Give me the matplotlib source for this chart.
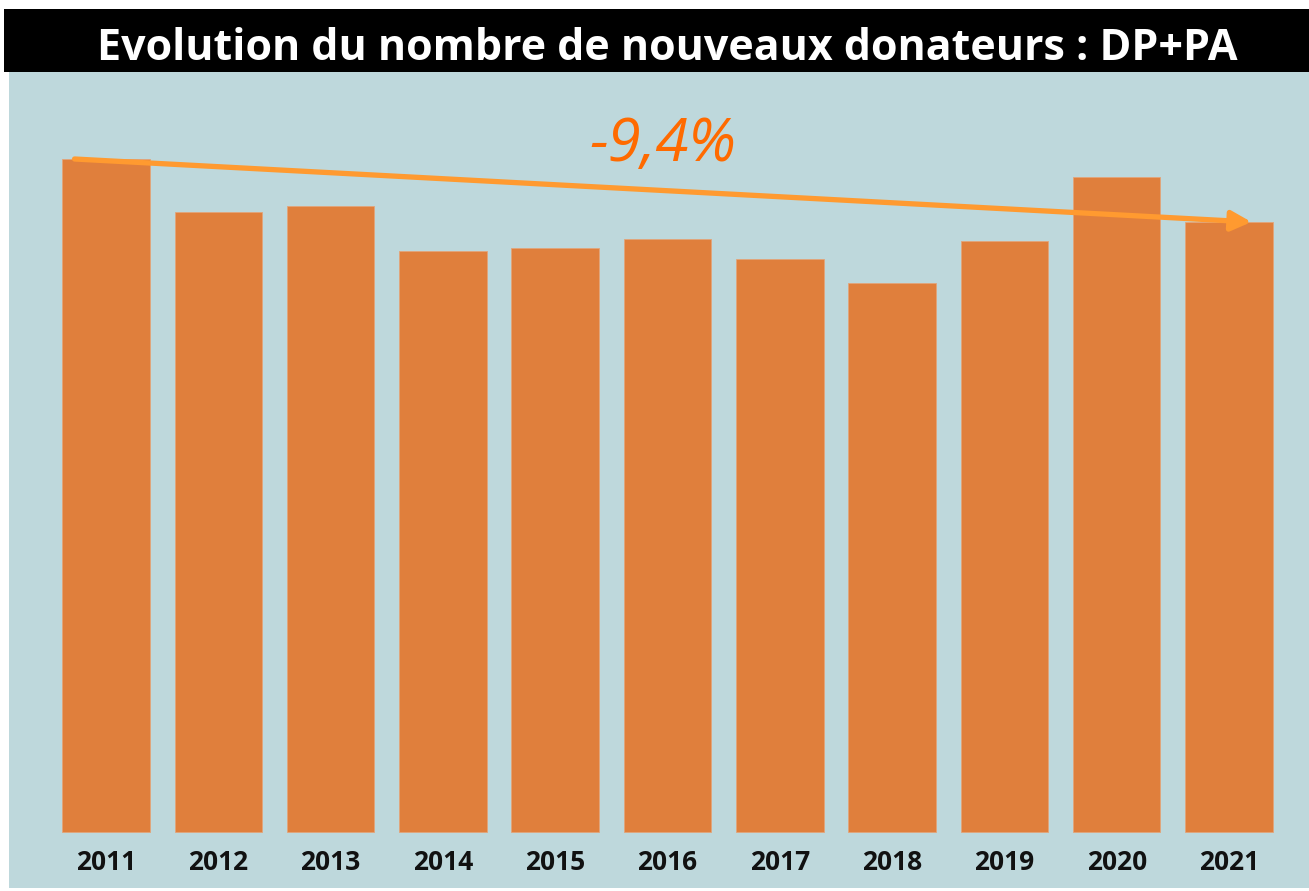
#!/usr/bin/env python3
"""Bar chart: evolution du nombre de nouveaux donateurs (DP+PA)."""

import matplotlib

matplotlib.use("Agg")
import matplotlib.pyplot as plt

# values (relative bar heights, no axis in the source)
years = ["2011", "2012", "2013", "2014", "2015", "2016",
         "2017", "2018", "2019", "2020", "2021"]
donors = [673, 620, 626, 581, 584, 593, 573, 549, 591, 655, 610]
change_label = "-9,4%"

W, H = 1309, 891
BG = "#bed8dc"
BAR = "#e07f3c"
ARROW = "#ff9a30"


def main():
    fig = plt.figure(figsize=(W / 100, H / 100), dpi=100)
    fig.patch.set_facecolor("white")

    # title band
    band = fig.add_axes([4 / W, (H - 72) / H, 1 - 4 / W, 63 / H])
    band.set_facecolor("black")
    band.set_xticks([])
    band.set_yticks([])
    for s in band.spines.values():
        s.set_visible(False)
    band.text(0.508, 0.37, "Evolution du nombre de nouveaux donateurs : DP+PA",
              ha="center", va="center", color="white", fontsize=31,
              fontweight="bold", family="Open Sans",
              transform=band.transAxes)

    # plotting area
    ax = fig.add_axes([9 / W, 3 / H, 1 - 9 / W, (888 - 72) / H])
    ax.set_facecolor(BG)
    x = list(range(len(years)))
    step = 112.3
    ax.set_xlim((9 - 106) / step, (W - 106) / step)
    ax.set_ylim(-(888 - 832), 832 - 72)
    ax.bar(x, donors, width=0.78, color=BAR, edgecolor="#e3a57a",
           linewidth=0.6, zorder=2)
    for xi, lab in zip(x, years):
        ax.text(xi, -31, lab, ha="center", va="center", fontsize=19,
                fontweight="bold", family="Open Sans", color="#111111")
    ax.set_xticks([])
    ax.set_yticks([])
    for s in ax.spines.values():
        s.set_visible(False)

    # trend arrow from first to last bar
    ax.annotate("", xy=(x[-1] + 0.2, donors[-1]),
                xytext=(x[0] - 0.28, donors[0]),
                arrowprops=dict(arrowstyle="-|>,head_length=1.2,head_width=0.6",
                                color=ARROW, lw=3.8, shrinkA=0, shrinkB=0),
                zorder=3)
    ax.text(4.96, 832 - 145, change_label, ha="center", va="center",
            fontsize=43, style="italic", family="Open Sans",
            color="#ff6a00", zorder=4)

    fig.savefig("out.png", dpi=100, facecolor="white")
    plt.close(fig)


if __name__ == "__main__":
    main()
